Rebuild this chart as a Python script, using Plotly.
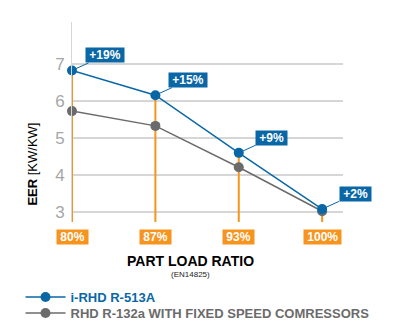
import plotly.graph_objects as go

categories = ["80%", "87%", "93%", "100%"]
irhd_values = [6.82, 6.15, 4.59, 3.07]
rhd_values = [5.72, 5.32, 4.20, 3.01]
gain_labels = ["+19%", "+15%", "+9%", "+2%"]
y_ticks = [3, 4, 5, 6, 7]

BLUE = "#0a67a6"
GRAY = "#6b6b6b"
ORANGE = "#f7941d"
FONT = "Liberation Sans, Arial, sans-serif"

Y_MIN, Y_MAX = 2.72, 8.13

fig = go.Figure()

# orange vertical drop lines from data point to axis bottom
xs, ys = [], []
for c, v in zip(categories, irhd_values):
    xs += [c, c, None]
    ys += [Y_MIN, v, None]
fig.add_trace(go.Scatter(x=xs, y=ys, mode="lines", line=dict(color=ORANGE, width=2),
                         showlegend=False, hoverinfo="skip", cliponaxis=False))

fig.add_trace(go.Scatter(x=categories, y=rhd_values, mode="lines+markers",
                         name="<b><span style='color:%s'>RHD R-132a WITH FIXED SPEED COMRESSORS</span></b>" % GRAY,
                         line=dict(color=GRAY, width=1.5), legend="legend2",
                         marker=dict(color=GRAY, size=10), cliponaxis=False))
fig.add_trace(go.Scatter(x=categories, y=irhd_values, mode="lines+markers",
                         name="<b><span style='color:%s'>i-RHD R-513A</span></b>" % BLUE,
                         line=dict(color=BLUE, width=1.5), legend="legend",
                         marker=dict(color=BLUE, size=10), cliponaxis=False))

annotations = []
for c, v, lab in zip(categories, irhd_values, gain_labels):
    annotations.append(dict(x=c, y=v, xref="x", yref="y", text="&nbsp;<b>%s</b>&nbsp;" % lab,
                            showarrow=True, arrowhead=0, arrowwidth=1, arrowcolor=BLUE,
                            ax=33, ay=-15, standoff=4,
                            bgcolor=BLUE, borderpad=0,
                            font=dict(color="white", size=12, family=FONT)))
for c in categories:
    annotations.append(dict(x=c, y=0, xref="x", yref="paper", yshift=-15,
                            xanchor="center", yanchor="middle",
                            text="&nbsp;<b>%s</b>&nbsp;" % c, showarrow=False, bgcolor=ORANGE,
                            borderpad=0, font=dict(color="white", size=12, family=FONT)))

annotations.append(dict(x=0.437, y=-0.194, xref="paper", yref="paper",
                        xanchor="center", yanchor="middle",
                        text="<b>PART LOAD RATIO</b>", showarrow=False,
                        font=dict(color="black", size=14, family=FONT)))
annotations.append(dict(x=0.437, y=-0.26, xref="paper", yref="paper",
                        xanchor="center", yanchor="middle",
                        text="(EN14825)", showarrow=False,
                        font=dict(color="#222", size=8, family=FONT)))
annotations.append(dict(x=-0.149, y=0.29, xref="paper", yref="paper", textangle=-90,
                        xanchor="center", yanchor="middle",
                        text="<b>EER</b> [KW/KW]", showarrow=False,
                        font=dict(color="black", size=13, family=FONT)))

legend_common = dict(x=-0.19, xanchor="left", yanchor="top", bgcolor="rgba(0,0,0,0)",
                     font=dict(size=13, family=FONT, color=GRAY), itemwidth=40)

fig.update_layout(
    width=400, height=333,
    margin=dict(l=72, r=57, t=22, b=111, autoexpand=False),
    paper_bgcolor="white", plot_bgcolor="white",
    font=dict(family=FONT),
    xaxis=dict(type="category", range=[0, 3.25], showticklabels=False, showgrid=False,
               zeroline=False, showline=False, ticks=""),
    yaxis=dict(range=[Y_MIN, Y_MAX], tickvals=y_ticks, showgrid=True, gridcolor="#d6d6d6",
               gridwidth=2, zeroline=False, showline=True, linecolor="#d6d6d6", linewidth=1,
               ticks="", ticklabelstandoff=3,
               tickfont=dict(color="#a6a6a6", size=17, family=FONT)),
    legend=dict(y=-0.30, **legend_common),
    legend2=dict(y=-0.38, **legend_common),
    annotations=annotations,
    showlegend=True,
)

fig.write_html("out.html")
